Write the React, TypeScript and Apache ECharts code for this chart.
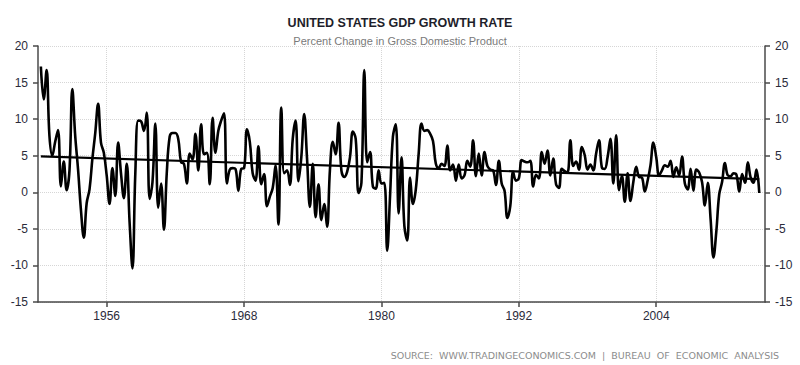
import { useEffect, useRef } from 'react';
import * as echarts from 'echarts';

// Quarterly annualized GDP growth (%), 1950 Q1 .. 2012 Q4
const startYear = 1950;
const gdpGrowth: number[] = [
  17.2, 12.7, 16.7, 7.7,   // 1950
  5.0, 6.9, 8.5, 0.8,      // 1951
  4.2, 0.3, 3.0, 14.1,     // 1952
  7.7, 3.1, -2.4, -6.2,    // 1953
  -1.5, 0.4, 4.6, 8.1,     // 1954
  12.1, 6.8, 5.4, 2.3,     // 1955
  -1.6, 3.3, -0.5, 6.8,    // 1956
  2.6, -0.8, 3.9, -4.1,    // 1957
  -10.4, 2.6, 9.8, 9.7,    // 1958
  8.4, 10.9, -0.9, 1.4,    // 1959
  9.4, -2.1, 1.2, -5.1,    // 1960
  2.7, 7.6, 8.1, 8.1,      // 1961
  7.3, 4.1, 3.9, 1.2,      // 1962
  5.3, 4.5, 8.0, 3.0,      // 1963
  9.3, 5.2, 5.4, 1.1,      // 1964
  10.2, 5.4, 8.4, 9.8,     // 1965
  10.8, 1.2, 3.1, 3.3,     // 1966
  3.2, 0.2, 3.2, 3.3,      // 1967
  8.6, 6.9, 2.6, 1.6,      // 1968
  6.3, 1.1, 2.5, -1.9,     // 1969
  -0.6, 0.6, 3.7, -4.4,    // 1970
  11.6, 2.6, 3.0, 1.0,     // 1971
  7.3, 9.8, 1.5, 4.8,      // 1972
  10.7, 4.6, -2.0, 3.9,    // 1973
  -3.4, 1.1, -3.8, -1.6,   // 1974
  -4.7, 3.1, 6.9, 5.2,     // 1975
  9.5, 3.0, 2.1, 2.8,      // 1976
  4.8, 8.3, 7.3, -0.1,     // 1977
  1.3, 16.7, 4.1, 5.5,     // 1978
  0.8, 0.5, 3.0, 1.2,      // 1979
  1.3, -8.0, -0.5, 7.6,    // 1980
  9.3, -2.9, 4.8, -4.6,    // 1981
  -6.6, 2.0, -1.6, 0.4,    // 1982
  5.3, 9.4, 8.4, 8.5,      // 1983
  8.0, 7.0, 3.9, 3.3,      // 1984
  3.9, 3.6, 6.4, 3.0,      // 1985
  3.8, 1.6, 3.8, 1.9,      // 1986
  2.3, 4.3, 3.5, 7.1,      // 1987
  2.2, 5.3, 2.3, 5.5,      // 1988
  3.6, 3.1, 3.0, 1.0,      // 1989
  4.3, 1.2, 0.2, -3.5,     // 1990
  -1.9, 2.8, 1.6, 1.9,     // 1991
  4.4, 4.2, 4.1, 4.3,      // 1992
  0.8, 2.4, 1.9, 5.5,      // 1993
  3.9, 5.7, 2.3, 4.6,      // 1994
  1.1, 0.6, 3.2, 2.9,      // 1995
  2.7, 7.1, 3.6, 4.2,      // 1996
  3.1, 6.2, 5.1, 3.1,      // 1997
  3.8, 3.0, 5.3, 7.1,      // 1998
  3.4, 3.2, 4.8, 7.3,      // 1999
  1.2, 7.8, 0.3, 2.3,      // 2000
  -1.3, 2.6, -1.2, 1.4,    // 2001
  3.5, 2.1, 2.0, 0.1,      // 2002
  1.6, 3.7, 6.8, 4.8,      // 2003
  2.3, 3.0, 3.7, 3.5,      // 2004
  4.3, 2.1, 3.4, 2.3,      // 2005
  4.9, 1.2, 0.4, 3.2,      // 2006
  0.2, 3.1, 2.7, 1.4,      // 2007
  -1.8, 1.3, -3.7, -8.9,   // 2008
  -5.3, -0.3, 1.4, 4.0,    // 2009
  2.3, 2.2, 2.6, 2.4,      // 2010
  0.1, 2.5, 1.3, 4.1,      // 2011
  2.0, 1.3, 3.1, -0.1,     // 2012
];

// Linear trend endpoints (first and last quarter)
const trendValues = [4.9, 1.8];
const yearTicks = [1956, 1968, 1980, 1992, 2004];
const yTicks = { min: -15, max: 20, step: 5 };

const titleText = 'UNITED STATES GDP GROWTH RATE';
const subtitleText = 'Percent Change in Gross Domestic Product';
const sourceText = 'SOURCE:  WWW.TRADINGECONOMICS.COM  |  BUREAU  OF  ECONOMIC  ANALYSIS';

export default function App() {
  const ref = useRef<HTMLDivElement>(null);
  useEffect(() => {
    if (!ref.current) return;
    const chart = echarts.init(ref.current, null, { renderer: 'svg' });
    const qx = (i: number) => startYear + (i + 1) / 4;
    const lineData = gdpGrowth.map((v, i) => [qx(i), v]);
    const trendData = [
      [qx(0), trendValues[0]],
      [qx(gdpGrowth.length - 1), trendValues[1]],
    ];
    const axisColor = '#4a4a4a';
    const labelStyle = {
      fontSize: 12,
      color: '#2b2b3a',
      fontFamily: 'Liberation Sans, Arial, sans-serif',
    };
    const yAxisCommon = {
      type: 'value' as const,
      min: yTicks.min,
      max: yTicks.max,
      interval: yTicks.step,
      axisLine: { show: true, onZero: false, lineStyle: { color: axisColor, width: 1.5 } },
      axisTick: { show: true, length: 5, lineStyle: { color: axisColor, width: 1.5 } },
      axisLabel: { ...labelStyle, margin: 10 },
    };
    chart.setOption({
      animation: false,
      backgroundColor: '#ffffff',
      title: [
        {
          text: titleText,
          left: 'center',
          top: 11,
          textStyle: {
            fontSize: 12.5,
            fontWeight: 'bold',
            color: '#1e1e2a',
            fontFamily: 'Liberation Sans, Arial, sans-serif',
          },
        },
        {
          text: subtitleText,
          left: 'center',
          top: 30,
          textStyle: {
            fontSize: 11,
            fontWeight: 'normal',
            color: '#7a7a7a',
            fontFamily: 'Liberation Sans, Arial, sans-serif',
          },
        },
        {
          text: sourceText,
          right: 16,
          top: 345,
          textStyle: {
            fontSize: 9.5,
            fontWeight: 'normal',
            color: '#8c8c8c',
            fontFamily: 'DejaVu Sans, sans-serif',
          },
        },
      ],
      grid: { left: 38, right: 35, top: 46, bottom: 63, containLabel: false },
      xAxis: {
        type: 'value',
        min: 1950,
        max: 2013.5,
        axisLine: { show: true, onZero: false, lineStyle: { color: axisColor, width: 1.5 } },
        axisTick: { show: true, length: 5, customValues: yearTicks, lineStyle: { color: axisColor, width: 1.5 } },
        axisLabel: {
          ...labelStyle,
          margin: 8,
          customValues: yearTicks,
          formatter: (v: number) => String(Math.round(v)),
        },
        splitLine: { show: true, lineStyle: { color: '#d6d6d6', type: 'dotted', width: 1 } },
      },
      yAxis: [
        {
          ...yAxisCommon,
          position: 'left',
          splitLine: { show: true, lineStyle: { color: '#d6d6d6', type: 'dotted', width: 1 } },
        },
        {
          ...yAxisCommon,
          position: 'right',
          splitLine: { show: false },
        },
      ],
      series: [
        {
          type: 'line',
          data: lineData,
          smooth: 0.4,
          showSymbol: false,
          lineStyle: { color: '#000000', width: 2.6 },
          z: 3,
        },
        {
          type: 'line',
          data: trendData,
          showSymbol: false,
          lineStyle: { color: '#000000', width: 2.2 },
          z: 4,
        },
      ],
    });
    return () => chart.dispose();
  }, []);
  return (
    <div
      ref={ref}
      style={{ position: 'absolute', left: 0, top: 0, width: 800, height: 365 }}
    />
  );
}
